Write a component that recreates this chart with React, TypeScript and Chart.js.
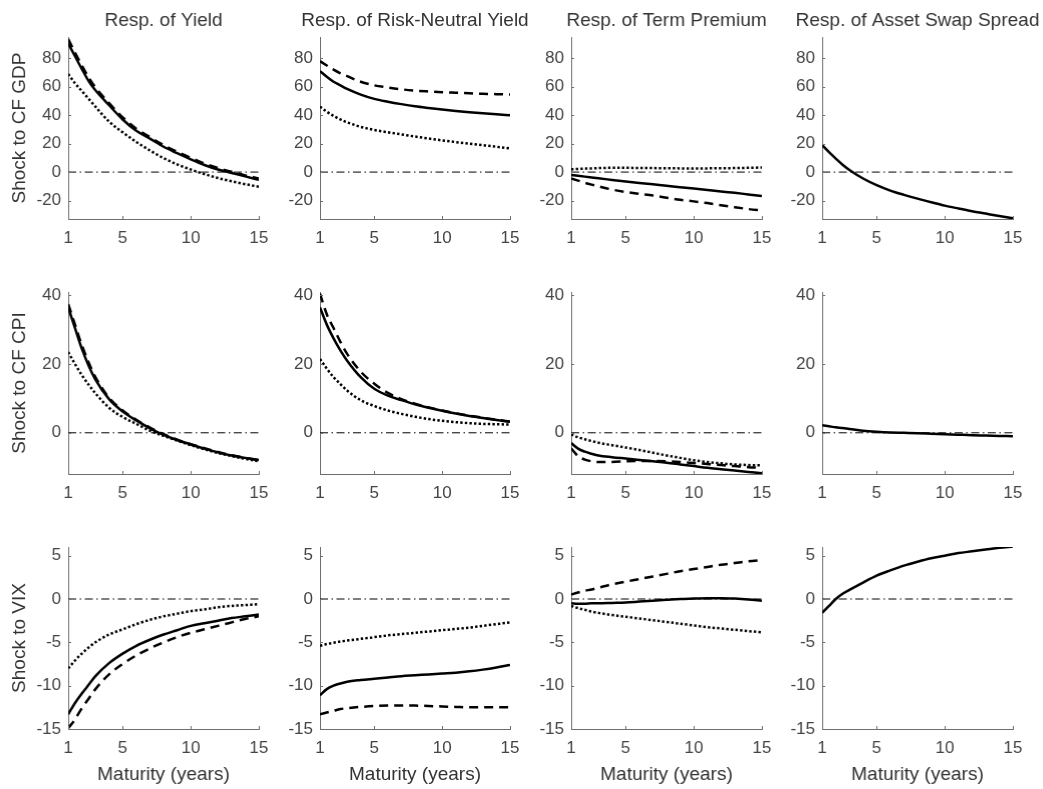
import React, { useEffect, useRef } from 'react';
import { Chart, registerables } from 'chart.js';

Chart.register(...registerables);

// ---------------- data ----------------
const MATURITIES = [1, 1.5, 2, 2.5, 3, 4, 5, 6, 7, 8, 9, 10, 11, 12, 13, 14, 15];
const X_TICKS = [1, 5, 10, 15];
const ZERO_X = [1, 15];
const ZERO_Y = [0, 0];

const COLUMN_TITLES = ['Resp. of Yield', 'Resp. of Risk-Neutral Yield', 'Resp. of Term Premium', 'Resp. of Asset Swap Spread'];
const ROW_LABELS = ['Shock to CF GDP', 'Shock to CF CPI', 'Shock to VIX'];
const X_LABEL = 'Maturity (years)';

const ROW_Y_TICKS = [
  [-20, 0, 20, 40, 60, 80],
  [0, 20, 40],
  [-15, -10, -5, 0, 5],
];
const ROW_Y_MIN = [-33, -12, -15];
const ROW_Y_MAX = [95, 41, 6];

// Shock to CF GDP
const GDP_YLD_SOLID = [90.5, 81.5, 72.5, 64, 57.5, 47, 37, 29, 23.5, 17.8, 13.3, 9, 5, 1.8, -0.6, -3, -5.5];
const GDP_YLD_DASHED = [93.5, 84, 75, 66.5, 59.5, 48.5, 38.5, 30.5, 24.5, 19, 14.3, 10, 6, 2.8, 0.2, -2.3, -4.5];
const GDP_YLD_DOTTED = [69, 62.5, 57, 51.5, 46, 35.5, 28, 21.2, 15.2, 9.8, 5.4, 1.8, -1.4, -4.2, -6.5, -8.5, -10.3];
const GDP_RN_SOLID = [71, 67, 63.5, 61, 58.5, 54.5, 51.5, 49.5, 47.8, 46.3, 45.1, 44, 43, 42.1, 41.3, 40.6, 40];
const GDP_RN_DASHED = [78, 75, 72, 69.5, 67.5, 63.5, 61, 59.5, 58.2, 57.3, 56.7, 56.2, 55.8, 55.4, 55.1, 54.8, 54.6];
const GDP_RN_DOTTED = [46, 42.5, 39.5, 37, 35, 31.8, 29.6, 28, 26.5, 25, 23.6, 22.3, 21.1, 20, 18.9, 17.8, 16.7];
const GDP_TP_SOLID = [-2, -2.6, -3.2, -3.8, -4.4, -5.5, -6.6, -7.6, -8.6, -9.6, -10.6, -11.6, -12.6, -13.6, -14.6, -15.7, -16.8];
const GDP_TP_DASHED = [-4.5, -6, -7.5, -8.8, -10, -12.3, -14, -15.3, -16.5, -18, -19.5, -20.6, -21.8, -23.3, -24.7, -26, -27];
const GDP_TP_DOTTED = [2, 2.2, 2.4, 2.6, 2.8, 3, 3, 2.9, 2.8, 2.7, 2.6, 2.6, 2.6, 2.7, 2.8, 3, 3.2];
const GDP_ASW_SOLID = [19, 14, 9.5, 5.2, 1.5, -4.5, -9.2, -13, -16, -18.7, -21.2, -23.6, -25.6, -27.5, -29.2, -30.9, -32.5];

// Shock to CF CPI
const CPI_YLD_SOLID = [36.5, 30.5, 24.5, 19.5, 15.5, 9.8, 6.2, 3.6, 1.3, -0.6, -2.1, -3.4, -4.6, -5.7, -6.6, -7.3, -7.9];
const CPI_YLD_DASHED = [37.5, 31.5, 25.5, 20.5, 16.2, 10.2, 6.5, 3.8, 1.5, -0.4, -2, -3.3, -4.5, -5.6, -6.5, -7.3, -8];
const CPI_YLD_DOTTED = [23.5, 20, 16.8, 14, 11.5, 7.3, 4.6, 2.6, 0.6, -0.9, -2.3, -3.6, -4.8, -5.9, -6.8, -7.6, -8.3];
const CPI_RN_SOLID = [36.5, 31.5, 27.5, 24, 21, 16.2, 12.8, 10.8, 9.5, 8.3, 7.3, 6.4, 5.6, 4.9, 4.3, 3.7, 3.2];
const CPI_RN_DASHED = [40.5, 34.5, 30.5, 26.5, 23, 17.8, 14.3, 11.6, 9.8, 8.5, 7.4, 6.5, 5.7, 5, 4.4, 3.8, 3.3];
const CPI_RN_DOTTED = [21.5, 18.7, 16.2, 14.2, 12.3, 9.5, 7.8, 6.5, 5.5, 4.7, 4, 3.5, 3.1, 2.8, 2.6, 2.5, 2.4];
const CPI_TP_SOLID = [-3, -4.6, -5.5, -6.1, -6.6, -7.1, -7.5, -7.9, -8.3, -8.7, -9.2, -9.7, -10.2, -10.6, -11, -11.4, -11.8];
const CPI_TP_DASHED = [-4.5, -6.8, -7.8, -8.3, -8.5, -8.5, -8.3, -8.2, -8.2, -8.3, -8.5, -8.8, -9.1, -9.4, -9.7, -10, -10.2];
const CPI_TP_DOTTED = [-0.5, -1.3, -1.9, -2.4, -2.9, -3.6, -4.3, -5, -5.8, -6.6, -7.3, -8, -8.5, -8.9, -9.2, -9.4, -9.5];
const CPI_ASW_SOLID = [2.2, 1.9, 1.6, 1.4, 1.1, 0.6, 0.3, 0.1, 0, -0.1, -0.25, -0.4, -0.55, -0.7, -0.8, -0.9, -1];

// Shock to VIX
const VIX_YLD_SOLID = [-13.3, -12, -10.9, -9.9, -8.9, -7.4, -6.3, -5.4, -4.7, -4.1, -3.6, -3.1, -2.8, -2.5, -2.2, -2, -1.8];
const VIX_YLD_DASHED = [-14.9, -13.9, -12.6, -11.5, -10.4, -8.7, -7.5, -6.5, -5.7, -5, -4.4, -3.9, -3.5, -3.1, -2.7, -2.3, -2];
const VIX_YLD_DOTTED = [-8, -7.1, -6.3, -5.6, -5, -4.1, -3.5, -2.9, -2.4, -2, -1.7, -1.4, -1.2, -0.95, -0.8, -0.7, -0.6];
const VIX_RN_SOLID = [-11.1, -10.4, -10, -9.75, -9.55, -9.35, -9.2, -9.05, -8.9, -8.8, -8.7, -8.6, -8.5, -8.35, -8.15, -7.9, -7.6];
const VIX_RN_DASHED = [-13.3, -13.1, -12.9, -12.7, -12.6, -12.45, -12.35, -12.3, -12.3, -12.3, -12.35, -12.4, -12.45, -12.5, -12.5, -12.5, -12.5];
const VIX_RN_DOTTED = [-5.4, -5.2, -5.05, -4.9, -4.8, -4.6, -4.4, -4.2, -4.05, -3.9, -3.75, -3.6, -3.45, -3.3, -3.1, -2.9, -2.7];
const VIX_TP_SOLID = [-0.5, -0.55, -0.55, -0.5, -0.5, -0.45, -0.4, -0.3, -0.2, -0.1, 0, 0.05, 0.1, 0.1, 0.05, -0.05, -0.2];
const VIX_TP_DASHED = [0.5, 0.75, 0.95, 1.1, 1.3, 1.7, 2, 2.3, 2.6, 2.9, 3.2, 3.45, 3.7, 3.95, 4.15, 4.35, 4.5];
const VIX_TP_DOTTED = [-0.8, -1.05, -1.25, -1.45, -1.6, -1.85, -2.05, -2.25, -2.45, -2.65, -2.85, -3.05, -3.25, -3.4, -3.55, -3.7, -3.85];
const VIX_ASW_SOLID = [-1.6, -0.8, 0, 0.6, 1.05, 1.9, 2.7, 3.3, 3.85, 4.3, 4.7, 5, 5.3, 5.5, 5.7, 5.9, 6.05];

type Style = 'solid' | 'dashed' | 'dotted';
type Series = { style: Style; values: number[] };

const PANELS: Series[][][] = [
  [
    [{ style: 'solid', values: GDP_YLD_SOLID }, { style: 'dashed', values: GDP_YLD_DASHED }, { style: 'dotted', values: GDP_YLD_DOTTED }],
    [{ style: 'solid', values: GDP_RN_SOLID }, { style: 'dashed', values: GDP_RN_DASHED }, { style: 'dotted', values: GDP_RN_DOTTED }],
    [{ style: 'solid', values: GDP_TP_SOLID }, { style: 'dashed', values: GDP_TP_DASHED }, { style: 'dotted', values: GDP_TP_DOTTED }],
    [{ style: 'solid', values: GDP_ASW_SOLID }],
  ],
  [
    [{ style: 'solid', values: CPI_YLD_SOLID }, { style: 'dashed', values: CPI_YLD_DASHED }, { style: 'dotted', values: CPI_YLD_DOTTED }],
    [{ style: 'solid', values: CPI_RN_SOLID }, { style: 'dashed', values: CPI_RN_DASHED }, { style: 'dotted', values: CPI_RN_DOTTED }],
    [{ style: 'solid', values: CPI_TP_SOLID }, { style: 'dashed', values: CPI_TP_DASHED }, { style: 'dotted', values: CPI_TP_DOTTED }],
    [{ style: 'solid', values: CPI_ASW_SOLID }],
  ],
  [
    [{ style: 'solid', values: VIX_YLD_SOLID }, { style: 'dashed', values: VIX_YLD_DASHED }, { style: 'dotted', values: VIX_YLD_DOTTED }],
    [{ style: 'solid', values: VIX_RN_SOLID }, { style: 'dashed', values: VIX_RN_DASHED }, { style: 'dotted', values: VIX_RN_DOTTED }],
    [{ style: 'solid', values: VIX_TP_SOLID }, { style: 'dashed', values: VIX_TP_DASHED }, { style: 'dotted', values: VIX_TP_DOTTED }],
    [{ style: 'solid', values: VIX_ASW_SOLID }],
  ],
];

// ---------------- layout / style ----------------
const FONT_FAMILY = '"Liberation Sans", Arial, Helvetica, sans-serif';
const AXIS_COLOR = '#6e6e6e';
const TICK_COLOR = '#444444';
const LABEL_COLOR = '#333333';
const TICK_FONT_SIZE = 17;
const LABEL_FONT_SIZE = 19;

const AXIS_LEFT = [68, 319.5, 571, 822];
const PLOT_W = 190.5;
const AXIS_TOP = [37, 292, 547];
const PLOT_H = 182;

const DASH: Record<Style, number[]> = { solid: [], dashed: [9, 6], dotted: [2.4, 2.2] };

const inwardTicks = {
  id: 'inwardTicks',
  afterDraw(chart: any) {
    const { ctx, chartArea, scales } = chart;
    const xs = scales.x;
    const ys = scales.y;
    ctx.save();
    ctx.strokeStyle = AXIS_COLOR;
    ctx.lineWidth = 1;
    ctx.beginPath();
    for (const t of xs.ticks) {
      const px = Math.round(xs.getPixelForValue(t.value)) + 0.5;
      ctx.moveTo(px, chartArea.bottom);
      ctx.lineTo(px, chartArea.bottom - 3);
    }
    for (const t of ys.ticks) {
      const py = Math.round(ys.getPixelForValue(t.value)) + 0.5;
      ctx.moveTo(chartArea.left, py);
      ctx.lineTo(chartArea.left + 3, py);
    }
    ctx.stroke();
    ctx.restore();
  },
};

function Panel({ row, col }: { row: number; col: number }) {
  const ref = useRef<HTMLCanvasElement | null>(null);
  const yw = col === 0 ? 68 : 50;
  const topPad = row === 0 ? 28 : 24;
  const xh = row === 2 ? 59 : 34;
  const width = yw * 2 + PLOT_W;
  const height = topPad + PLOT_H + xh;
  const left = AXIS_LEFT[col] - yw;
  const top = AXIS_TOP[row] - topPad;

  useEffect(() => {
    const canvas = ref.current;
    if (!canvas) return;
    const series = PANELS[row][col];
    const datasets: any[] = series.map((s, i) => ({
      label: `${ROW_LABELS[row]} / ${COLUMN_TITLES[col]} (${s.style})`,
      data: MATURITIES.map((m, k) => ({ x: m, y: s.values[k] })),
      borderColor: '#000000',
      backgroundColor: '#000000',
      borderWidth: 2.5,
      borderDash: DASH[s.style],
      borderCapStyle: 'butt',
      pointRadius: 0,
      fill: false,
      cubicInterpolationMode: 'monotone',
      order: i,
      yAxisID: 'y',
    }));
    datasets.push({
      label: 'zero',
      data: ZERO_X.map((x, k) => ({ x, y: ZERO_Y[k] })),
      borderColor: '#000000',
      borderWidth: 1,
      borderDash: [8, 3.5, 1.5, 3.5],
      pointRadius: 0,
      fill: false,
      order: 10,
      yAxisID: 'y',
    });

    const chart = new Chart(canvas, {
      type: 'line',
      data: { datasets },
      plugins: [inwardTicks],
      options: {
        animation: false,
        responsive: false,
        devicePixelRatio: 1,
        layout: { padding: { left: 0, right: 0, top: row === 0 ? 0 : topPad, bottom: 0 } },
        plugins: {
          legend: { display: false },
          tooltip: { enabled: false },
          title: row === 0
            ? {
                display: true,
                text: COLUMN_TITLES[col],
                color: LABEL_COLOR,
                font: { family: FONT_FAMILY, size: LABEL_FONT_SIZE, weight: 'normal' },
                padding: { top: 0.6, bottom: 4.6 },
                fullSize: true,
              }
            : { display: false },
        },
        scales: {
          x: {
            type: 'linear',
            min: 1,
            max: 15,
            afterBuildTicks: (s: any) => {
              s.ticks = X_TICKS.map((v) => ({ value: v }));
            },
            afterFit: (s: any) => {
              s.height = xh;
            },
            grid: { display: false, drawTicks: false },
            border: { display: true, color: AXIS_COLOR, width: 1 },
            ticks: {
              padding: 9,
              color: TICK_COLOR,
              font: { family: FONT_FAMILY, size: TICK_FONT_SIZE },
              maxRotation: 0,
              autoSkip: false,
              callback: (v: any) => String(v),
            },
            title: row === 2
              ? {
                  display: true,
                  text: X_LABEL,
                  color: LABEL_COLOR,
                  font: { family: FONT_FAMILY, size: LABEL_FONT_SIZE },
                  padding: { top: 0, bottom: 2.1 },
                }
              : { display: false },
          },
          y: {
            type: 'linear',
            position: 'left',
            min: ROW_Y_MIN[row],
            max: ROW_Y_MAX[row],
            afterBuildTicks: (s: any) => {
              s.ticks = ROW_Y_TICKS[row].map((v) => ({ value: v }));
            },
            afterFit: (s: any) => {
              s.width = yw;
            },
            grid: { display: false, drawTicks: false },
            border: { display: true, color: AXIS_COLOR, width: 1 },
            ticks: {
              padding: 7,
              color: TICK_COLOR,
              font: { family: FONT_FAMILY, size: TICK_FONT_SIZE },
              autoSkip: false,
              callback: (v: any) => String(v),
            },
            title: col === 0
              ? {
                  display: true,
                  text: ROW_LABELS[row],
                  color: LABEL_COLOR,
                  font: { family: FONT_FAMILY, size: LABEL_FONT_SIZE },
                  padding: { top: 8.6, bottom: 0 },
                }
              : { display: false },
          },
          // invisible right-hand spacer axis, keeps each panel symmetric so the title is centred on the plot
          spacer: {
            type: 'linear',
            position: 'right',
            display: true,
            grid: { display: false, drawTicks: false },
            border: { display: false },
            ticks: { display: false },
            afterFit: (s: any) => {
              s.width = yw;
            },
          },
        },
      } as any,
    });
    return () => chart.destroy();
  }, [row, col]);

  return (
    <canvas
      ref={ref}
      width={width}
      height={height}
      style={{ position: 'absolute', left, top, width, height }}
    />
  );
}

export default function App() {
  const cells: JSX.Element[] = [];
  for (let r = 0; r < 3; r++) {
    for (let c = 0; c < 4; c++) {
      cells.push(<Panel key={`${r}-${c}`} row={r} col={c} />);
    }
  }
  return (
    <div
      style={{
        position: 'absolute',
        left: 0,
        top: 0,
        width: 1043,
        height: 789,
        overflow: 'hidden',
        background: '#ffffff',
      }}
    >
      {cells}
    </div>
  );
}
